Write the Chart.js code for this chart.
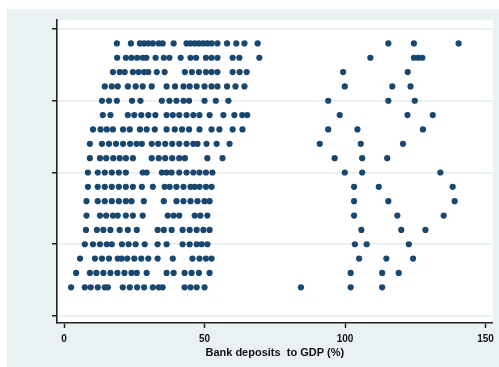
<!DOCTYPE html>
<html>
<head>
<meta charset="utf-8">
<script src="https://cdn.jsdelivr.net/npm/chart.js@4"></script>
<style>
  html, body { margin: 0; padding: 0; background: #fff; }
  #wrap { width: 499px; height: 367px; }
</style>
</head>
<body>
<div id="wrap"><canvas id="dots" width="499" height="367"></canvas></div>
<script>
// ─── Data ─────────────────────────────────────────────────────────────────────

// row position on the (unlabelled) y axis, top row first
const rowPos = [19, 18, 17, 16, 15, 14, 13, 12, 11, 10, 9, 8, 7, 6, 5, 4, 3, 2];

// bank deposits to GDP (%), one list per row
const rowValues = [
  [18.8, 23.8, 27, 28.5, 30, 31.6, 33.7, 35.1, 39, 43.6, 45, 46.5, 48, 49.5, 51, 52.5, 54.6, 58, 61.3, 64.2, 68.9, 115.4, 124.5, 140.4],
  [18.9, 22, 24, 26, 28, 29.3, 32.6, 35.5, 37.5, 41.5, 45, 47, 50.5, 52.5, 54.6, 60, 62.4, 69.5, 109, 124.5, 126, 127.5],
  [17.4, 19.8, 21.6, 24.5, 26.5, 28.5, 30, 33, 35.8, 43, 45.5, 48, 50.5, 52.5, 54.6, 60, 62.5, 65, 99.3, 122.3],
  [14.5, 17, 19.1, 22.7, 25.5, 28, 31.2, 36.5, 39.5, 42.5, 44.7, 47.2, 50, 52.5, 54.6, 58, 61, 64.2, 99.9, 116.8, 123.3],
  [13.5, 16, 18.8, 24.2, 27.2, 34.8, 37.5, 40, 42.5, 44.5, 50, 54, 58.5, 94, 115.4, 124.8],
  [13.8, 16.5, 22.7, 25, 27.5, 30, 32.5, 36.5, 38.7, 41, 43.6, 46, 48.2, 51.8, 56.7, 60.6, 63.4, 65.2, 98.1, 122.2, 131.2],
  [10.3, 13, 15.2, 17.4, 21, 23.4, 27, 29.4, 32.3, 36.5, 39.4, 42, 44.5, 48.2, 52.5, 55.3, 60, 63.5, 94, 104.4, 127.7],
  [9.2, 13.5, 16, 18.5, 21, 23.5, 25.8, 27.7, 31.2, 33.5, 36, 38.5, 41, 43.6, 46, 47.5, 50.7, 54.3, 58.9, 91, 105.6, 120.6],
  [9.2, 12.8, 15, 17.5, 19.8, 22, 24.5, 31.2, 33.7, 36, 38.5, 41, 43, 51, 56.4, 96.3, 106.1, 115],
  [8.5, 12, 14.5, 17, 19.5, 22, 28, 29.4, 34.8, 36.5, 38.3, 41, 43.6, 46, 48.2, 50.5, 52.8, 99.9, 106.1, 133.9],
  [8.5, 12, 14.5, 17, 19.5, 22, 24.5, 27.7, 31.6, 35.8, 37.6, 40, 42.5, 45, 46.5, 48.2, 50.5, 52.5, 103.2, 112, 138.3],
  [8, 12, 14.5, 17, 19.5, 22, 24, 28.4, 35.5, 40, 42.5, 45, 47.5, 50, 51.8, 103.2, 115.4, 139],
  [8, 12.8, 15, 17.4, 19.1, 22, 24.5, 28, 36.9, 39, 41, 46.5, 48.5, 51, 103.2, 118.6, 135.1],
  [7.8, 11.7, 14, 16.5, 19.8, 22.7, 25.9, 33.3, 35.5, 38.3, 42.2, 44.7, 47.2, 49.6, 51.8, 105.8, 120, 128.6],
  [7.4, 10.3, 12.8, 15.2, 17, 20.6, 23, 25.5, 28.7, 33.3, 36.5, 42.2, 44.7, 47.2, 49, 51, 103.5, 107.7, 122.7],
  [5.7, 11, 13.5, 16, 19.1, 20.5, 22.5, 25, 27.5, 30, 33.3, 38.7, 45.7, 48.2, 50.5, 52.5, 105, 114.7, 124.2],
  [4.3, 9.2, 11.5, 14, 16.5, 19, 21.5, 24, 25.9, 29.4, 36.5, 39, 42.9, 45.4, 48, 51.8, 102, 113.2, 119.1],
  [2.5, 7.4, 9.5, 12, 14.5, 15.6, 20.9, 23.4, 26, 28.5, 31.6, 33.7, 35.1, 42.9, 45, 47.2, 50, 84.3, 102, 113.2],
];

const xTicks = [0, 50, 100, 150];
const yTicks = [0, 5, 10, 15, 20];
const xTitle = "Bank deposits  to GDP (%)";

// ─── Points ──────────────────────────────────────────────────────────────────

const points = [];
rowValues.forEach((vals, i) => {
  vals.forEach(v => points.push({ x: v, y: rowPos[i] }));
});

// ─── Backgrounds (outer bluish-grey region, white plot region) ──────────────

const bgPlugin = {
  id: "bg",
  beforeDraw(c) {
    const ctx = c.ctx;
    const a = c.chartArea;
    ctx.save();
    ctx.fillStyle = "#ffffff";
    ctx.fillRect(0, 0, c.width, c.height);
    ctx.fillStyle = "#eaf1f3";
    ctx.fillRect(7, 9, c.width - 7, c.height - 9);
    ctx.fillStyle = "#ffffff";
    ctx.fillRect(a.left, a.top, a.right - a.left, a.bottom - a.top);
    ctx.restore();
  }
};

new Chart(document.getElementById("dots"), {
  type: "scatter",
  data: {
    datasets: [{
      data: points,
      backgroundColor: "#1a476f",
      borderColor: "#1a476f",
      borderWidth: 0,
      pointRadius: 3.1,
      pointHoverRadius: 3.1,
    }]
  },
  options: {
    responsive: false,
    devicePixelRatio: 1,
    animation: false,
    layout: { padding: { left: 0, top: 20, right: 5, bottom: 0 } },
    plugins: {
      legend: { display: false },
      tooltip: { enabled: false },
    },
    scales: {
      x: {
        type: "linear",
        min: -2.5,
        max: 152.5,
        afterFit: s => { s.height = 44; },
        afterBuildTicks: s => { s.ticks = xTicks.map(v => ({ value: v })); },
        grid: {
          display: true,
          drawOnChartArea: false,
          drawTicks: true,
          tickLength: 5,
          tickColor: "#222",
          tickWidth: 1.5,
        },
        border: { display: true, color: "#222", width: 1.6 },
        ticks: {
          color: "#111",
          padding: 5,
          maxRotation: 0,
          font: { family: "Liberation Sans", size: 10, weight: "bold" },
        },
        title: {
          display: true,
          text: xTitle,
          color: "#111",
          padding: { top: 0, bottom: 7 },
          font: { family: "Liberation Sans", size: 11, weight: "bold" },
        }
      },
      y: {
        type: "linear",
        min: -0.49,
        max: 20.63,
        afterFit: s => { s.width = 57; },
        afterBuildTicks: s => { s.ticks = yTicks.map(v => ({ value: v })); },
        grid: {
          display: true,
          drawOnChartArea: true,
          color: "#e3ecef",
          lineWidth: 1.5,
          drawTicks: true,
          tickLength: 5,
          tickColor: "#222",
          tickWidth: 1.5,
        },
        border: { display: true, color: "#222", width: 1.6 },
        ticks: { display: false },
      }
    }
  },
  plugins: [bgPlugin]
});
</script>
</body>
</html>
